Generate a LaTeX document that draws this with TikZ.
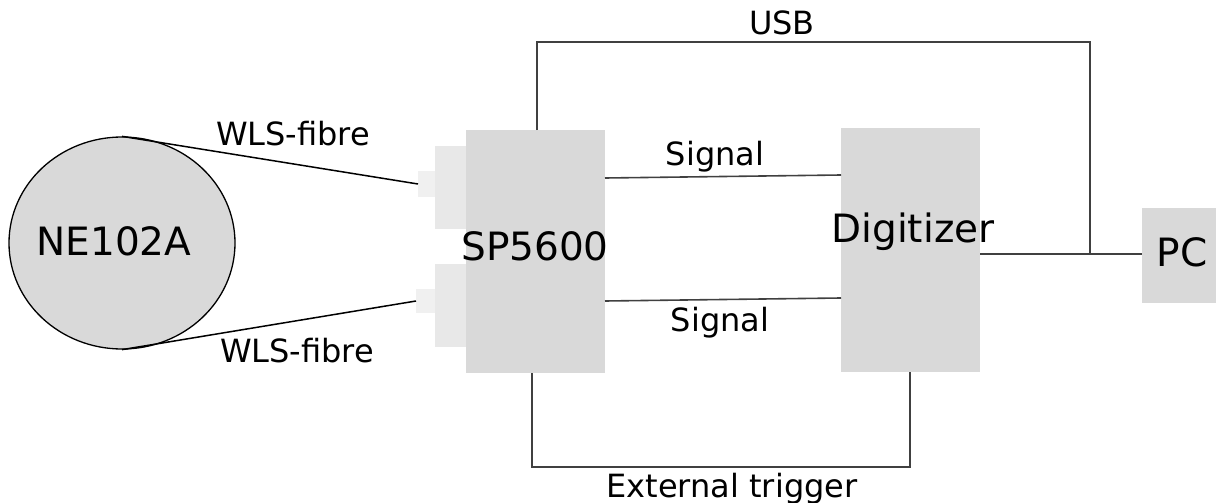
\documentclass[tikz,border=0pt]{standalone}
\usepackage{fontspec}
\setmainfont{DejaVu Sans}
\usetikzlibrary{shapes.geometric}
\definecolor{boxgray}{HTML}{D9D9D9}
\definecolor{conngray}{HTML}{E8E8E8}
\definecolor{plugggray}{HTML}{F0F0F0}
\definecolor{wiregray}{HTML}{404040}
\begin{document}
\begin{tikzpicture}[x=1pt,y=-1pt,
  box/.style={fill=boxgray,draw=none,inner sep=0pt,outer sep=0pt},
  conn/.style={fill=conngray,draw=none,inner sep=0pt,outer sep=0pt},
  plug/.style={fill=plugggray,draw=none,inner sep=0pt,outer sep=0pt},
  big/.style={font=\fontsize{39}{39}\selectfont,inner sep=0pt,anchor=base},
  lbl/.style={font=\fontsize{32}{32}\selectfont,inner sep=0pt,anchor=base},
  wire/.style={draw=wiregray,line width=1.6pt},
  fibre/.style={draw=black,line width=1.5pt}]
\useasboundingbox (0,0) rectangle (1216,503);
% scintillator
\node[ellipse,fill=boxgray,draw=black,line width=1.3pt,minimum width=226pt,minimum height=212pt,inner sep=0pt] (ne) at (122,243) {};
% SP5600 and connectors
\node[box,minimum width=139pt,minimum height=243pt] (sp) at (535.5,251.5) {};
\node[conn,minimum width=31pt,minimum height=83pt] (c1) at (450.5,187.5) {};
\node[conn,minimum width=31pt,minimum height=83pt] (c2) at (450.5,305.5) {};
\node[plug,minimum width=17pt,minimum height=26pt] (p1) at (426.5,184) {};
\node[plug,minimum width=19pt,minimum height=24pt] (p2) at (425.5,301) {};
% Digitizer and PC
\node[box,minimum width=139pt,minimum height=244pt] (dig) at (910.5,250) {};
\node[box,minimum width=74pt,minimum height=95pt] (pc) at (1179,255.5) {};
% texts
\node[big] (tne) at (114,255) {NE102A};
\node[big] (tsp) at (535,260) {SP5600};
\node[big] (tdig) at (913,242) {Digitizer};
\node[big] (tpc) at (1182,266) {PC};
\node[lbl] (tusb) at (782,35) {USB};
\node[lbl] (tw1) at (293,145) {WLS-fibre};
\node[lbl] (tw2) at (297,362) {WLS-fibre};
\node[lbl] (ts1) at (715,165) {Signal};
\node[lbl] (ts2) at (720,331) {Signal};
\node[lbl] (text) at (732,497) {External trigger};
% fibres
\draw[fibre] (ne.north) -- (p1.west);
\draw[fibre] (ne.south) -- (p2.west);
% signals
\draw[wire] (sp.east |- 0,178) -- (dig.west |- 0,175);
\draw[wire] (sp.east |- 0,301) -- (dig.west |- 0,298);
% USB and PC link
\coordinate (jn) at (1090,254);
\draw[wire] (sp.north -| 537,0) |- (1090,42) -- (jn);
\draw[wire] (dig.east |- jn) -- (jn) -- (pc.west |- jn);
% external trigger
\draw[wire] (sp.south -| 532,0) |- (910,467) -- (dig.south -| 910,0);
\end{tikzpicture}
\end{document}
